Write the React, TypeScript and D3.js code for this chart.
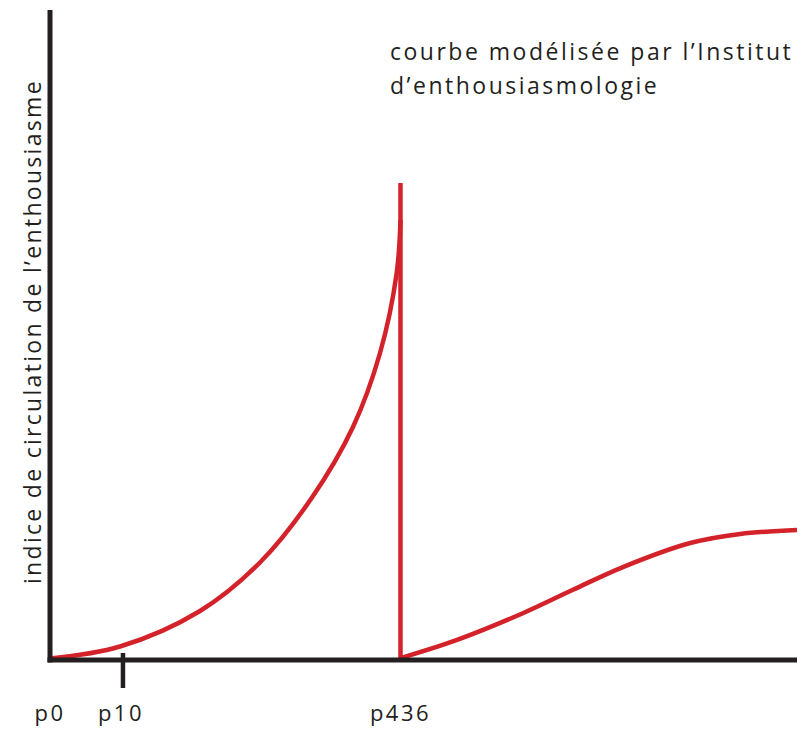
import React from "react";
import * as d3 from "d3";

// courbe avant la chute (x: position dans le livre, y: indice)
const riseX = [0, 9.37, 20.08, 28.11, 35.03, 40.56, 44.18, 46.41, 46.92];
const riseY = [0.23, 2.08, 7.54, 15.0, 24.92, 35.85, 47.23, 59.54, 67.69];
const dropTop = 73.4;

// courbe après la chute
const afterX = [46.92, 54.5, 63.3, 70.0, 76.7, 85.7, 92.4, 100];
const afterY = [0.3, 3.1, 7.2, 10.8, 14.3, 18.0, 19.4, 20.0];

const tickLabels = ["p0", "p10", "p436"];
const tickPositions = [0, 9.5, 46.92];

const yLabel = "indice de circulation de l’enthousiasme";
const noteLines = ["courbe modélisée par l’Institut", "d’enthousiasmologie"];

const RED = "#d3222a";
const INK = "#231f20";
const FONT = "'Open Sans', 'DejaVu Sans', sans-serif";

const App = () => {
  const width = 803;
  const height = 729;
  const x = d3.scaleLinear().domain([0, 100]).range([50, 797]);
  const y = d3.scaleLinear().domain([0, 100]).range([660, 10]);

  const line = d3
    .line<[number, number]>()
    .x((d) => x(d[0]))
    .y((d) => y(d[1]))
    .curve(d3.curveCatmullRom.alpha(0.5));

  const rise = riseX.map((v, i) => [v, riseY[i]] as [number, number]);
  const after = afterX.map((v, i) => [v, afterY[i]] as [number, number]);
  const dropX = riseX[riseX.length - 1];

  return (
    <svg
      width={width}
      height={height}
      style={{ position: "absolute", left: 0, top: 0, background: "#fff" }}
    >
      {/* courbes */}
      <path d={line(rise) || ""} fill="none" stroke={RED} strokeWidth={4.5} />
      <line
        x1={x(dropX)}
        x2={x(dropX)}
        y1={y(dropTop)}
        y2={y(0)}
        stroke={RED}
        strokeWidth={4.5}
      />
      <path d={line(after) || ""} fill="none" stroke={RED} strokeWidth={4.5} />

      {/* axes */}
      <line x1={x(0)} x2={x(0)} y1={y(100)} y2={y(0) + 2.5} stroke={INK} strokeWidth={5} />
      <line x1={x(0) - 2.5} x2={x(100)} y1={y(0)} y2={y(0)} stroke={INK} strokeWidth={5} />
      <line
        x1={x(tickPositions[1]) + 2}
        x2={x(tickPositions[1]) + 2}
        y1={y(0) - 7}
        y2={y(0) + 28}
        stroke={INK}
        strokeWidth={4.5}
      />

      {tickLabels.map((t, i) => (
        <text
          key={t}
          x={x(tickPositions[i])}
          y={721}
          textAnchor="middle"
          fontFamily={FONT}
          fontSize={22}
          letterSpacing={2.5}
          fill={INK}
        >
          {t}
        </text>
      ))}

      <text
        transform={`translate(41,584) rotate(-90)`}
        fontFamily={FONT}
        fontSize={23}
        letterSpacing={2.3}
        fill={INK}
      >
        {yLabel}
      </text>

      {noteLines.map((l, i) => (
        <text
          key={i}
          x={390}
          y={60 + i * 34}
          fontFamily={FONT}
          fontSize={23}
          letterSpacing={2.5}
          fill={INK}
        >
          {l}
        </text>
      ))}
    </svg>
  );
};

export default App;
